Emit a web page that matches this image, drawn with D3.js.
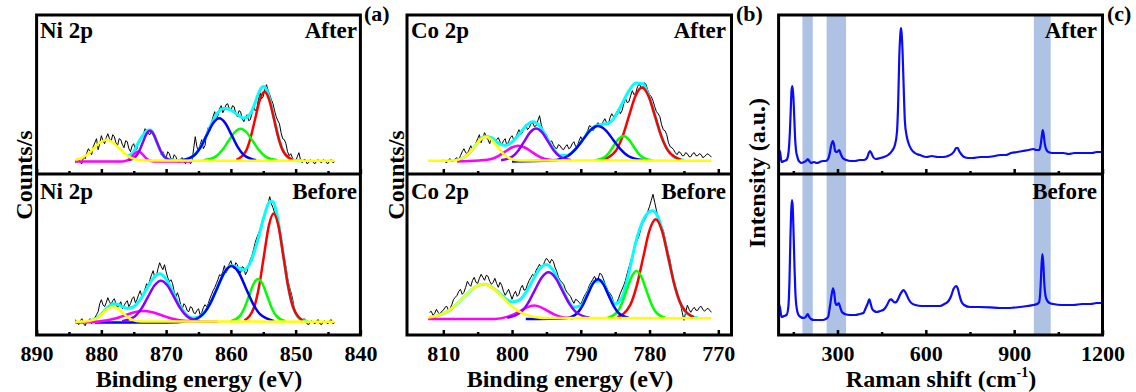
<!DOCTYPE html>
<html><head><meta charset="utf-8">
<script src="https://cdn.jsdelivr.net/npm/d3@7"></script>
<style>body{margin:0;background:#fff}</style>
</head><body><svg id="c" width="1136" height="392"></svg>
<script>
// ---------------- DATA ----------------
const niTicks=[890,880,870,860,850,840], niMinor=[885,875,865,855,845];
const coTicks=[810,800,790,780,770], coMinor=[805,795,785,775];
const ramanTicks=[300,600,900,1200], ramanMinor=[150,450,750,1050];
const niXDomain=[890,840], coXDomain=[815.28,768.08], ramanXDomain=[100,1200];
const niAfterYDomain=[-13.3,145.7], niBeforeYDomain=[-13.3,147.7];
const coAfterYDomain=[-13.3,145.7], coBeforeYDomain=[-16.7,144.3];
const ramanAfterYDomain=[0,159], ramanBeforeYDomain=[0,161];

// raw spectra, sampled every 0.25 eV from the start energy
const rawStep=0.25;
const niAfterRawStart=884;
const niAfterRaw=[-2,2,1,-2,-3,4,2,8, 12,9,6,14,18,22,11,17, 25,20,17,23,27,22,19,26, 24,18,15,22,21,16,13,20,
 19,12,9,15,17,10,12,19, 22,25,27,32,30,27,26,31, 29,23,19,17,14,6,9,5, 3,9,7,2,1,6,4,0,
 -2,2,3,-1,-3,2,1,-3, -1,12,24,14,9,16,21,12, 15,27,33,30,38,44,49,42, 45,52,55,48,51,56,57,52,
 50,55,54,47,44,50,49,42, 39,44,46,40,41,47,55,50, 52,61,68,62,64,72,76,70, 66,61,57,50,44,40,37,28,
 22,21,17,9,5,7,3,0, -1,4,8,1,-2,1,1,-3, -2,1,0,-2,-3,0,1,-1, -2,1,0,-2,-3,0,1,-2, -1];
const niBeforeRawStart=884;
const niBeforeRaw=[2,-1,-3,1,3,-2,-4,0, 1,3,-2,1,4,7,10,18, 22,17,15,19,24,20,17,21, 23,18,14,17,20,13,16,19,
 21,15,18,23,25,19,22,27, 31,25,27,33,38,36,42,47, 51,44,46,53,59,55,52,57, 50,44,40,42,38,30,25,29,
 24,17,13,18,16,11,10,15, 14,9,8,11,13,7,9,14, 17,15,18,23,27,31,34,38, 42,47,46,50,56,49,52,58,
 61,55,53,59,57,51,49,55, 54,47,50,57,62,66,72,79, 84,88,92,99,104,108,112,118, 125,118,114,109,106,98,92,84,
 74,63,55,44,36,30,24,15, 8,6,3,1,-1,3,2,-2, -3,0,1,-1,-2,1,2,-2, -3,0,1,-1,-2,1,2,-2, -1];
const coAfterRawStart=810;
const coAfterRaw=[1,-1,-2,1,2,-1,0,2, 3,1,5,9,12,8,7,11, 15,10,13,18,22,26,18,23, 28,24,21,17,24,20,18,21,
 23,19,16,20,22,15,19,23, 25,21,23,27,31,26,28,33, 36,31,33,37,38,34,35,40, 45,36,30,28,26,21,18,20,
 16,13,12,16,15,12,11,14, 16,12,13,17,19,14,15,20, 24,20,22,27,30,35,34,30, 32,36,38,34,35,39,42,38,
 36,43,47,44,46,49,52,47, 50,57,62,58,59,65,70,66, 68,74,77,73,72,78,76,70, 66,64,60,54,49,47,44,36,
 31,30,26,18,14,13,11,8, 6,9,8,5,5,8,7,4, 4,7,8,5,5,7,6,3, 4,6,7,5,4];
const coBeforeRawStart=812;
const coBeforeRaw=[6,7,3,5,9,6,4,7, 8,11,12,8,10,14,19,21, 23,27,29,24,26,31,37,34, 32,38,41,36,35,40,44,41,
 38,43,42,37,34,36,40,35, 31,36,33,27,23,26,29,24, 19,24,27,22,24,30,33,28, 29,34,38,41,44,42,48,51,
 54,50,52,57,60,58,55,59, 57,51,47,41,38,36,34,29, 26,24,22,18,15,19,18,16, 14,18,22,25,28,33,36,39,
 42,38,39,45,44,40,35,31, 27,25,22,17,14,16,20,25, 29,33,38,45,51,57,62,69, 74,79,83,90,95,98,101,107,
 112,118,124,116,108,101,95,91, 88,80,72,64,58,47,39,31, 26,19,14,6,-2,6,13,9, 6,9,11,8,8,11,12,9, 7,9,10,8,6];

// fitted envelopes [eV, counts]
const niAfterEnv=[[876,4],[875.5,6],[875,9.1],[874.5,15.5],[874,21.1],[873.5,26],[873,29.8],[872.5,30.8],[872,27.3],[871.5,19.9],[871,11.8],[870.5,5.8],[870,2.3],[869,0.4],[868,0.3],[867,1],[866,3.7],[865,10.4],[864,22.2],[863,36.7],[862,48.2],[861,52.4],[860,50.6],[859,46.2],[858,42.7],[857,46.8],[856.5,53.8],[856,62.8],[855.5,70.8],[855,74.2],[854.5,71],[854,61.2],[853.5,47.1],[853,32.4],[852.5,19.6],[852,10.7],[851,2.2],[850,0.3],[849,0]];
const niBeforeEnv=[[882,0.6],[881,2.6],[880,7.6],[879,14.5],[878.5,16.9],[878,17.9],[877.5,17.4],[877,15.9],[876,13.3],[875,15.1],[874,22.1],[873,32.9],[872,43.5],[871,48],[870,42.7],[869,30.2],[868,17.1],[867,7.8],[866,3.8],[865,4.4],[864,9.9],[863,20.6],[862,35.3],[861,49.2],[860,56.1],[859,54.4],[858,51.8],[857,59.1],[856,78],[855,102.3],[854.5,113.3],[854,120.2],[853.5,119.9],[853,110.6],[852.5,93.1],[852,71.1],[851,30.2],[850,8.3],[849,1.5],[848,0.2]];
const coAfterEnv=[[808,0.8],[807,3.2],[806,9.3],[805,18.2],[804,24.3],[803,23],[802,17.6],[801,15.3],[800,18.7],[799,26.2],[798,34.6],[797,39],[796,34.9],[795,23.5],[794,11.8],[793,5.4],[792,5.3],[791,10],[790,18.2],[789,27.5],[788,34.2],[787,36.2],[786,37.3],[785,44.2],[784,57.1],[783,69.8],[782,77.8],[781,76.9],[780,62.6],[779,39.9],[778,19.4],[777,7.1],[776,2],[775,0.4]];
const coBeforeEnv=[[812,0.9],[811,2.2],[810,4.6],[809,8.6],[808,14.4],[807,21.3],[806,28],[805,32.7],[804,34],[803,31.3],[802,25.9],[801,19.9],[800,16.4],[799,18],[798,25.7],[797,38],[796,49.4],[795,53.8],[794,47.6],[793,33.8],[792,19.4],[791,11],[790,12.6],[789,24.5],[788,37.1],[787,37.3],[786,24.4],[785,14.4],[784,21],[783,45.8],[782,76.2],[781,96.9],[780.5,103.1],[780,106.7],[779.5,107.6],[779,104.4],[778.5,96.4],[778,83.9],[777,52.1],[776,24.3],[775,8.5],[774,2.2],[773,0.4]];

// fitted components [eV, counts]
const niAfterYellow=[[884,0.9],[883,2.8],[882.05,6.8],[881.1,12.7],[880.15,18.5],[879.2,21],[878.25,18.5],[877.3,12.7],[876.35,6.8],[875.4,2.8],[873.5,0.2],[844,0]];
const niAfterMagenta=[[884,-0.8],[876.7,-0.7],[875.9,0.55],[875.5,2.45],[875.1,5.3],[874.7,8],[874.3,9.2],[873.9,8],[873.5,5.3],[873.1,2.45],[872.7,0.55],[871.9,-0.7],[866,-0.8]];
const niAfterPurple=[[875.8,0.3],[874.7,4.1],[874.15,9.7],[873.6,18.2],[873.05,26.5],[872.5,30],[871.95,26.5],[871.4,18.2],[870.85,9.7],[870.3,4.1],[869.2,0.3]];
const niAfterBlue=[[867.5,0.5],[865.6,5.75],[864.65,13.8],[863.7,25.8],[862.75,37.5],[861.8,42.5],[860.85,37.5],[859.9,25.8],[858.95,13.8],[858,5.75],[856.1,0.5]];
const niAfterGreen=[[864.2,0.35],[862.3,4.3],[861.35,10.4],[860.4,19.4],[859.45,28.2],[858.5,32],[857.55,28.2],[856.6,19.4],[855.65,10.4],[854.7,4.3],[852.8,0.35]];
const niAfterRed=[[859.15,0.8],[857.7,9.3],[856.98,22.4],[856.25,41.9],[855.53,60.9],[854.8,69],[854.08,60.9],[853.35,41.9],[852.63,22.4],[851.9,9.3],[850.45,0.8]];

const niBeforeYellow=[[884,0],[882.55,0.2],[881.1,2],[880.38,4.9],[879.65,9.1],[878.93,13.2],[878.2,15],[877.48,13.2],[876.75,9.1],[876.03,4.9],[875.3,2],[873.85,0.2],[844,0]];
const niBeforeMagenta=[[884,-0.8],[881.9,-0.6],[879.1,1.4],[877.7,3.5],[876.3,6.5],[874.9,9.4],[873.5,10.7],[872.1,9.4],[870.7,6.5],[869.3,3.5],[867.9,1.4],[865.1,0.1],[862,0]];
const niBeforePurple=[[876.8,0.5],[874.8,5.5],[873.8,13.3],[872.8,24.9],[871.8,36.2],[870.8,41],[869.8,36.2],[868.8,24.9],[867.8,13.3],[866.8,5.5],[864.8,0.5]];
const niBeforeBlue=[[881,-0.9],[870,-0.9],[866.5,0.6],[864.3,7.5],[863.2,18.1],[862.1,33.8],[861,49.2],[859.9,55.7],[858.8,49.2],[857.7,33.8],[856.6,18.1],[855.5,7.5],[853.3,0.6]];
const niBeforeGreen=[[860,0.5],[858.6,5.8],[857.9,13.9],[857.2,25.9],[856.5,37.7],[855.8,42.7],[855.1,37.7],[854.4,25.9],[853.7,13.9],[853,5.8],[851.6,0.5]];
const niBeforeRed=[[857.9,1.2],[856.4,14.7],[855.65,35.2],[854.9,65.7],[854.15,95.6],[853.4,108.3],[852.65,95.6],[851.9,65.7],[851.15,35.2],[850.4,14.7],[848.9,1.2]];

const coAfterYellow=[[812.2,0],[808.6,0.3],[807,3.2],[806.2,7.8],[805.4,14.6],[804.6,21.2],[803.8,24],[803,21.2],[802.2,14.6],[801.4,7.8],[800.6,3.2],[799,0.3],[771,0]];
const coAfterMagenta=[[808,-0.8],[804.8,0.2],[802.9,2],[801.95,4.9],[801,9.1],[800.05,13.2],[799.1,15],[798.15,13.2],[797.2,9.1],[796.25,4.9],[795.3,2],[793.4,0.2]];
const coAfterPurple=[[801.6,0.4],[799.9,4.4],[799.05,10.5],[798.2,19.6],[797.35,28.5],[796.5,32.3],[795.65,28.5],[794.8,19.6],[793.95,10.5],[793.1,4.4],[791.4,0.4]];
const coAfterBlue=[[800,-0.8],[794.1,0.4],[791.9,4.7],[790.8,11.3],[789.7,21],[788.6,30.6],[787.5,34.7],[786.4,30.6],[785.3,21],[784.2,11.3],[783.1,4.7],[780.9,0.4]];
const coAfterGreen=[[788,0.3],[786.6,3.3],[785.9,8],[785.2,15],[784.5,21.8],[783.8,24.7],[783.1,21.8],[782.4,15],[781.7,8],[781,3.3],[779.6,0.3]];
const coAfterRed=[[786.8,0.8],[784.9,9.9],[783.95,23.8],[783,44.5],[782.05,64.7],[781.1,73.3],[780.15,64.7],[779.2,44.5],[778.25,23.8],[777.3,9.9],[775.4,0.8]];

const coBeforeYellow=[[812.2,0.8],[810,4.6],[808.55,11],[807.1,20.6],[805.65,30],[804.2,34],[802.75,30],[801.3,20.6],[799.85,11],[798.4,4.6],[795.5,0.4],[771,0]];
const coBeforeMagenta=[[812.2,-0.8],[802.5,-0.7],[800.6,1.7],[799.65,4.1],[798.7,7.7],[797.75,11.2],[796.8,12.7],[795.85,11.2],[794.9,7.7],[793.95,4.1],[793,1.7],[791.1,0.1]];
const coBeforePurple=[[800.7,0.5],[798.7,6.2],[797.7,14.9],[796.7,27.9],[795.7,40.6],[794.7,46],[793.7,40.6],[792.7,27.9],[791.7,14.9],[790.7,6.2],[788.7,0.5]];
const coBeforeBlue=[[798,-0.8],[792,0.4],[790.5,5.3],[789.75,12.7],[789,23.7],[788.25,34.4],[787.5,39],[786.75,34.4],[786,23.7],[785.25,12.7],[784.5,5.3],[783,0.4]];
const coBeforeGreen=[[786.1,0.5],[784.7,6.4],[784,15.4],[783.3,28.7],[782.6,41.7],[781.9,47.3],[781.2,41.7],[780.5,28.7],[779.8,15.4],[779.1,6.4],[777.7,0.5]];
const coBeforeRed=[[784.65,1.1],[782.8,13.4],[781.88,32.1],[780.95,60],[780.03,87.4],[779.1,99],[778.18,87.4],[777.25,60],[776.33,32.1],[775.4,13.4],[773.55,1.1]];

// Raman spectra [shift cm-1, intensity a.u.]
const ramanAfter=[[101,24],[105,22],[110,12],[118,13],[127,14],[133,20],[138,40],[141,62],[144,84],[147,88],[150,78],[153,58],[156,36],[159,24],[163,18],[167,14],[172,12],[178,11],[186,12],[193,13],[199,15],[204,13],[210,11],[220,12],[230,11],[240,12],[250,13],[260,13],[268,15],[274,21],[279,29],[284,33],[288,30],[292,23],[297,22],[302,23],[306,24],[311,20],[318,16],[330,14],[345,13],[360,13],[375,14],[390,14],[400,16],[405,20],[410,23],[415,21],[421,17],[430,15],[445,16],[458,17],[472,19],[485,23],[495,29],[502,42],[506,70],[510,118],[514,142],[516,146],[518,140],[521,122],[525,85],[529,52],[535,38],[541,31],[550,25],[563,21],[580,19],[603,17],[620,18],[640,17],[660,17],[675,18],[688,20],[697,23],[703,26],[708,26],[713,23],[720,20],[730,17],[745,16],[760,16],[785,17],[810,17],[835,18],[852,19],[870,19],[890,21],[910,22],[930,23],[950,24],[965,25],[975,24],[985,24],[990,29],[994,38],[997,44],[1000,40],[1004,30],[1010,24],[1016,22],[1030,21],[1050,21],[1067,21],[1085,20],[1105,21],[1120,21],[1135,21],[1150,21],[1165,21],[1180,22],[1198,22]];
const ramanBefore=[[101,31],[105,27],[110,18],[118,19],[127,20],[133,28],[137,55],[140,95],[143,125],[145.5,135],[148,128],[151,100],[154,68],[157,42],[160,30],[164,23],[168,20],[175,18],[184,17],[192,18],[199,21],[204,18],[210,16],[220,15],[230,15],[240,15],[250,15],[260,16],[268,18],[274,28],[280,40],[285,46.7],[289,42],[293,32],[298,30],[304,32],[309,28],[315,23],[325,21],[342,20],[360,20],[375,21],[388,22],[396,27],[402,31],[408,35.7],[413,31],[418,26],[425,24],[433,23],[445,24],[455,25],[462,27],[470,31],[477,35],[482,35.7],[488,34],[494,32.5],[500,33],[506,36],[512,40],[518,43],[524,45],[530,43],[535,40],[543,35],[552,31.7],[565,30],[586,29],[610,29],[630,29],[648,29],[663,31],[677,34],[686,39],[694,46],[700,48.5],[704,49],[709,46],[714,40],[720,34],[730,30],[750,28],[780,28],[818,27.7],[850,27],[880,27],[897,27.3],[920,28],[945,29],[965,30],[978,31],[985,33],[990,50],[993,70],[996,81],[999,72],[1002,53],[1006,40],[1011,35],[1020,32],[1033,31],[1060,30],[1080,30],[1101,30],[1130,31],[1160,31],[1180,32],[1198,32]];
const ramanBands=[[181,216],[263,329],[967,1024]];

// ---------------- DRAWING ----------------
const FONT="'Liberation Serif','Times New Roman',Times,serif";
const svg=d3.select("#c");
const defs=svg.append("defs");
const TOP=15, MID=174, BOT=335;
const COL={red:"#ff0000",green:"#00ff00",blue:"#0000ff",purple:"#8a00ff",magenta:"#ff00ff",yellow:"#ffff00",cyan:"#00ffff"};
let clipN=0;

function text(g,x,y,str,size,anchor){
  return g.append("text").attr("x",x).attr("y",y).text(str)
    .attr("font-family",FONT).attr("font-weight","bold").attr("font-size",size)
    .attr("text-anchor",anchor||"start").attr("fill","#000");
}
function clipped(g,x,y0,y1){
  const id="cp"+(clipN++);
  const r=x.range();
  defs.append("clipPath").attr("id",id).append("rect")
    .attr("x",Math.min(r[0],r[1])).attr("y",y0).attr("width",Math.abs(r[1]-r[0])).attr("height",y1-y0);
  return g.append("g").attr("clip-path",`url(#${id})`);
}
function axes(g,x,major,minor){
  [[MID,false],[BOT,true]].forEach(([yy,lab])=>{
    const a=g.append("g").attr("transform",`translate(0,${yy})`)
      .call(d3.axisBottom(x).tickValues(major).tickSize(-5).tickPadding(10).tickFormat(lab?d3.format("d"):""));
    a.attr("font-family",FONT).attr("font-size",22).attr("font-weight","bold");
    a.select(".domain").remove();
    a.selectAll("line").attr("stroke","#000").attr("stroke-width",2.5);
    a.selectAll("text").attr("fill","#000");
    const b=g.append("g").attr("transform",`translate(0,${yy})`)
      .call(d3.axisBottom(x).tickValues(minor).tickSize(-3).tickFormat(""));
    b.select(".domain").remove();
    b.selectAll("line").attr("stroke","#000").attr("stroke-width",2.5);
  });
}
function frame(g,x){
  const r=x.range();
  g.append("rect").attr("x",r[0]).attr("y",TOP).attr("width",r[1]-r[0]).attr("height",BOT-TOP)
    .attr("fill","none").attr("stroke","#000").attr("stroke-width",3);
  g.append("line").attr("x1",r[0]).attr("x2",r[1]).attr("y1",MID).attr("y2",MID)
    .attr("stroke","#000").attr("stroke-width",3);
}
function xpsSub(g,x,y0,y1,yDom,raw,rawStart,env,comps){
  const y=d3.scaleLinear().domain(yDom).range([y1,y0]);
  const cg=clipped(g,x,y0,y1);
  const rawPts=raw.map((v,i)=>[rawStart-i*rawStep,v]);
  const lin=d3.line().x(d=>x(d[0])).y(d=>y(d[1]));
  const smooth=d3.line().x(d=>x(d[0])).y(d=>y(d[1])).curve(d3.curveMonotoneX);
  cg.append("path").attr("d",lin(rawPts)).attr("fill","none").attr("stroke","#000").attr("stroke-width",1);
  cg.append("path").attr("d",smooth(env)).attr("fill","none").attr("stroke",COL.cyan).attr("stroke-width",3);
  comps.forEach(([data,c])=>{
    cg.append("path").attr("d",smooth(data)).attr("fill","none").attr("stroke",COL[c]).attr("stroke-width",2.5);
  });
}

// Panel (a) Ni 2p
const gA=svg.append("g");
const xNi=d3.scaleLinear().domain(niXDomain).range([36.6,360.4]);
xpsSub(gA,xNi,TOP,MID,niAfterYDomain,niAfterRaw,niAfterRawStart,niAfterEnv,
  [[niAfterRed,"red"],[niAfterGreen,"green"],[niAfterBlue,"blue"],[niAfterMagenta,"magenta"],[niAfterPurple,"purple"],[niAfterYellow,"yellow"]]);
xpsSub(gA,xNi,MID,BOT,niBeforeYDomain,niBeforeRaw,niBeforeRawStart,niBeforeEnv,
  [[niBeforeRed,"red"],[niBeforeGreen,"green"],[niBeforeBlue,"blue"],[niBeforeMagenta,"magenta"],[niBeforePurple,"purple"],[niBeforeYellow,"yellow"]]);
frame(gA,xNi); axes(gA,xNi,niTicks,niMinor);
text(gA,40,38,"Ni 2p",23); text(gA,40,199,"Ni 2p",23);
text(gA,357,38,"After",23,"end"); text(gA,357,199,"Before",23,"end");
text(gA,364,21,"(a)",22);
text(gA,199,387,"Binding energy (eV)",24,"middle");
text(gA,0,0,"Counts/s",24,"middle").attr("transform","translate(32,175) rotate(-90)");

// Panel (b) Co 2p
const gB=svg.append("g");
const xCo=d3.scaleLinear().domain(coXDomain).range([407,731.5]);
xpsSub(gB,xCo,TOP,MID,coAfterYDomain,coAfterRaw,coAfterRawStart,coAfterEnv,
  [[coAfterRed,"red"],[coAfterGreen,"green"],[coAfterBlue,"blue"],[coAfterMagenta,"magenta"],[coAfterPurple,"purple"],[coAfterYellow,"yellow"]]);
xpsSub(gB,xCo,MID,BOT,coBeforeYDomain,coBeforeRaw,coBeforeRawStart,coBeforeEnv,
  [[coBeforeRed,"red"],[coBeforeGreen,"green"],[coBeforeBlue,"blue"],[coBeforeMagenta,"magenta"],[coBeforePurple,"purple"],[coBeforeYellow,"yellow"]]);
frame(gB,xCo); axes(gB,xCo,coTicks,coMinor);
text(gB,411,38,"Co 2p",23); text(gB,411,199,"Co 2p",23);
text(gB,726,38,"After",23,"end"); text(gB,726,199,"Before",23,"end");
text(gB,736,21,"(b)",22);
text(gB,570,387,"Binding energy (eV)",24,"middle");
text(gB,0,0,"Counts/s",24,"middle").attr("transform","translate(404,175) rotate(-90)");

// Panel (c) Raman
const gC=svg.append("g");
const xR=d3.scaleLinear().domain(ramanXDomain).range([778.6,1102.5]);
ramanBands.forEach(b=>{
  gC.append("rect").attr("x",xR(b[0])).attr("y",TOP).attr("width",xR(b[1])-xR(b[0])).attr("height",BOT-TOP)
    .attr("fill","#aec3e3");
});
[[ramanAfter,ramanAfterYDomain,TOP,MID],[ramanBefore,ramanBeforeYDomain,MID,BOT]].forEach(([data,dom,y0,y1])=>{
  const y=d3.scaleLinear().domain(dom).range([y1,y0]);
  const cg=clipped(gC,xR,y0,y1);
  cg.append("path").attr("d",d3.line().x(d=>xR(d[0])).y(d=>y(d[1])).curve(d3.curveMonotoneX)(data))
    .attr("fill","none").attr("stroke","#0a0aff").attr("stroke-width",2.2);
});
frame(gC,xR); axes(gC,xR,ramanTicks,ramanMinor);
text(gC,1097,38,"After",23,"end"); text(gC,1097,199,"Before",23,"end");
text(gC,1107,21,"(c)",22);
const rt=text(gC,941,387,"Raman shift (cm",24,"middle");
rt.append("tspan").attr("font-size",14).attr("dy",-10).text("-1");
rt.append("tspan").attr("dy",10).text(")");
text(gC,0,0,"Intensity (a.u.)",24,"middle").attr("transform","translate(765,173) rotate(-90)");
</script></body></html>
